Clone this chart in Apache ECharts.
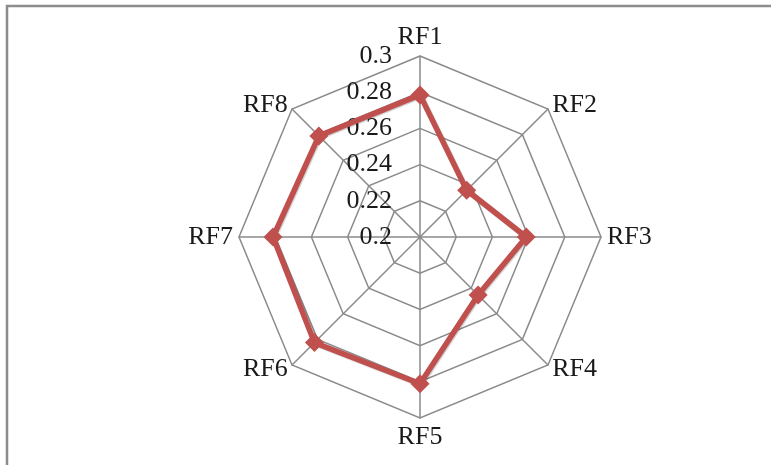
<!DOCTYPE html>
<html>
<head>
<meta charset="utf-8">
<script src="https://cdn.jsdelivr.net/npm/echarts@6/dist/echarts.min.js"></script>
<style>
  html, body { margin: 0; padding: 0; background: #ffffff; }
  #chart { width: 771px; height: 465px; }
</style>
</head>
<body>
<div id="chart"></div>
<script>
// Risk factors, listed clockwise from the top
const categories = ['RF1', 'RF2', 'RF3', 'RF4', 'RF5', 'RF6', 'RF7', 'RF8'];
const values = [0.2785, 0.2365, 0.2587, 0.2454, 0.2811, 0.2825, 0.2812, 0.279];
const ticks = [0.2, 0.22, 0.24, 0.26, 0.28, 0.3];

// ECharts lays radar indicators out counter-clockwise; reverse all but the first
// so that the axes run clockwise.
const order = [0].concat(categories.map((_, i) => i).slice(1).reverse());

const tickMin = ticks[0];
const tickMax = ticks[ticks.length - 1];
const gridColor = '#8a8a8a';
const textFont = {
  fontFamily: '"Liberation Serif", "Times New Roman", serif',
  fontSize: 26,
  color: '#1a1a1a'
};

const indicator = order.map((i, k) => {
  const ind = { name: categories[i], min: tickMin, max: tickMax };
  if (k === 0) {
    ind.axisLabel = {
      show: true,
      margin: 28,
      ...textFont,
      formatter: v => String(+v.toFixed(2))
    };
  }
  return ind;
});

const chart = echarts.init(document.getElementById('chart'), null, { renderer: 'canvas' });
chart.setOption({
  backgroundColor: '#ffffff',
  animation: false,
  graphic: [{
    type: 'rect',
    shape: { x: 7, y: 6, width: 900, height: 600 },
    style: { fill: 'none', stroke: '#8c8c8c', lineWidth: 2.5 },
    silent: true
  }],
  radar: {
    center: [420, 237],
    radius: 181,
    shape: 'polygon',
    splitNumber: ticks.length - 1,
    startAngle: 90,
    indicator: indicator,
    axisName: { ...textFont },
    nameGap: 6,
    axisLine: { lineStyle: { color: gridColor, width: 1.5 } },
    splitLine: { lineStyle: { color: gridColor, width: 1.5 } },
    splitArea: { show: false },
    axisTick: { show: false },
    axisLabel: { show: false }
  },
  series: [{
    type: 'radar',
    symbol: 'diamond',
    symbolSize: 19,
    itemStyle: { color: '#C0504D' },
    lineStyle: {
      color: '#C0504D',
      width: 5.5,
      shadowColor: 'rgba(0,0,0,0.2)',
      shadowBlur: 1,
      shadowOffsetX: 1,
      shadowOffsetY: 1
    },
    data: [{ value: order.map(i => values[i]) }]
  }]
});
</script>
</body>
</html>
